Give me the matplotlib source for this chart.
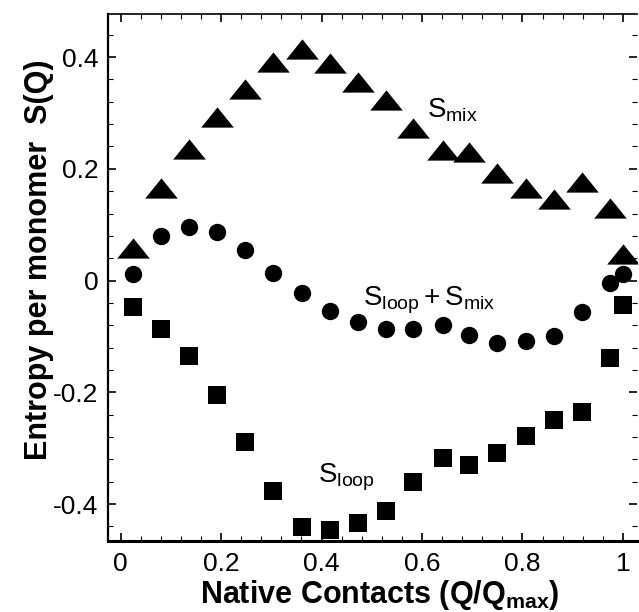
import numpy as np
import matplotlib.pyplot as plt
from matplotlib.ticker import MultipleLocator, FixedLocator, FixedFormatter

plt.rcParams['font.family'] = ['Liberation Sans', 'DejaVu Sans']
plt.rcParams['mathtext.fontset'] = 'custom'
plt.rcParams['mathtext.rm'] = 'Liberation Sans'
plt.rcParams['mathtext.it'] = 'Liberation Sans'
plt.rcParams['mathtext.bf'] = 'Liberation Sans:bold'

# Q/Qmax, centro de cada bin + el ultimo punto en 1
q = [0.025, 0.081, 0.136, 0.192, 0.248, 0.303, 0.361, 0.417, 0.472, 0.528,
     0.583, 0.641, 0.694, 0.750, 0.808, 0.863, 0.918, 0.974, 1.0]

s_mix = [0.059, 0.166, 0.236, 0.293, 0.343, 0.391, 0.414, 0.389, 0.355, 0.323,
         0.273, 0.234, 0.230, 0.193, 0.166, 0.146, 0.177, 0.130, 0.048]

s_tot = [0.0125, 0.079, 0.096, 0.0875, 0.055, 0.014, -0.023, -0.055, -0.075, -0.0875,
         -0.0875, -0.080, -0.098, -0.1125, -0.109, -0.100, -0.057, -0.004, 0.011]

s_loop = [-0.048, -0.0875, -0.135, -0.204, -0.289, -0.376, -0.441, -0.446, -0.434, -0.412,
          -0.361, -0.318, -0.330, -0.309, -0.279, -0.250, -0.236, -0.138, -0.043]

xticks = [0, 0.2, 0.4, 0.6, 0.8, 1.0]
xticklabels = ['0', '0.2', '0.4', '0.6', '0.8', '1']
yticks = [-0.4, -0.2, 0, 0.2, 0.4]
yticklabels = ['-0.4', '-0.2', '0', '0.2', '0.4']

W, H = 639, 612
fig = plt.figure(figsize=(W/100, H/100), dpi=100)
ax = fig.add_axes([108/W, 1-541/H, (637-108)/W, (541-14)/H])

# triangulo achatado como en la figura original
tri = [(-1, -0.62), (1, -0.62), (0, 0.62), (-1, -0.62)]

ax.plot(q, s_mix, linestyle='none', marker=tri, markersize=23.5, color='k', mew=0)
ax.plot(q, s_tot, linestyle='none', marker='o', markersize=12.5, color='k', mew=0)
ax.plot(q, s_loop, linestyle='none', marker='s', markersize=13, color='k', mew=0)

ax.set_xlim(-0.025, 1.028)
ax.set_ylim(-0.466, 0.477)

ax.xaxis.set_major_locator(FixedLocator(xticks))
ax.xaxis.set_major_formatter(FixedFormatter(xticklabels))
ax.yaxis.set_major_locator(FixedLocator(yticks))
ax.yaxis.set_major_formatter(FixedFormatter(yticklabels))
ax.xaxis.set_minor_locator(MultipleLocator(0.04))
ax.yaxis.set_minor_locator(MultipleLocator(0.04))

ax.tick_params(which='both', direction='in', top=True, right=True, labelsize=19)
ax.tick_params(which='major', length=6, width=1.2)
ax.tick_params(which='minor', length=3.5, width=0.8)
ax.tick_params(axis='x', pad=8)
ax.tick_params(axis='y', pad=7)

ax.spines['left'].set_linewidth(1.6)
ax.spines['bottom'].set_linewidth(2.2)
ax.spines['top'].set_linewidth(1.2)
ax.spines['right'].set_visible(False)

# etiquetas de las curvas
ax.text(0.610, 0.291, r'$\mathregular{S_{mix}}$', fontsize=20, ha='left', va='baseline')
ax.text(0.483, -0.044, r'$\mathregular{S_{loop} + S_{mix}}$', fontsize=20, ha='left', va='baseline')
ax.text(0.393, -0.362, r'$\mathregular{S_{loop}}$', fontsize=20, ha='left', va='baseline')

ax.set_xlabel(r'Native Contacts (Q/Q$_{\mathbf{max}}$)', fontsize=22, fontweight='bold',
              va='baseline')
ax.xaxis.set_label_coords(380/W, 1-603/H, transform=fig.transFigure)
ax.set_ylabel('Entropy per monomer  S(Q)', fontsize=22, fontweight='bold',
              va='baseline', rotation_mode='anchor')
ax.yaxis.set_label_coords(47/W, 1-260/H, transform=fig.transFigure)

fig.savefig('out.png', dpi=100)
